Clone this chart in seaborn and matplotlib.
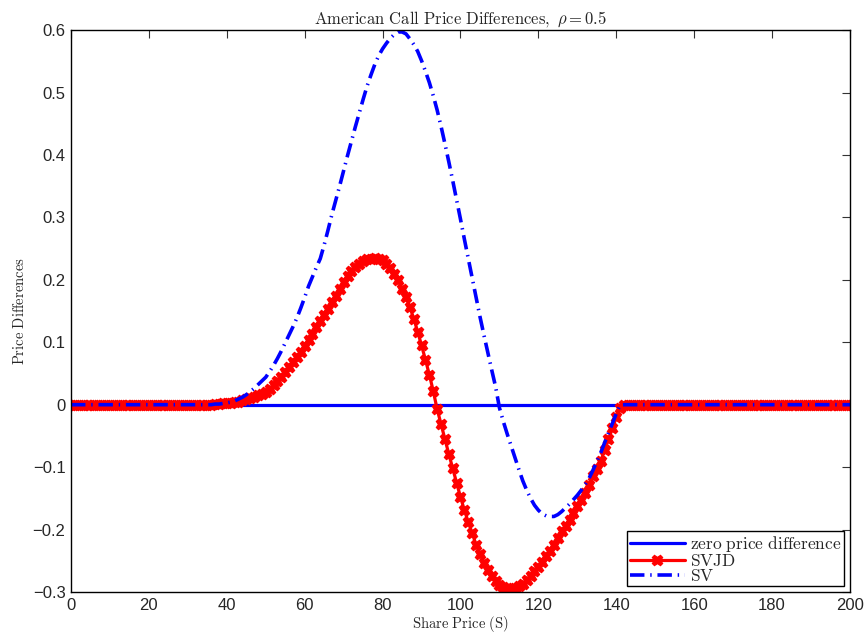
import pandas as pd
import seaborn as sns
import matplotlib.pyplot as plt

# share price grid (one point per unit, as in the original)
share_price = list(range(0, 201))

# SVJD price differences for S = 36..141 (flat zero elsewhere)
svjd_mid = [0.000, 0.001, 0.001, 0.002, 0.002, 0.003, 0.004, 0.005, 0.007, 0.009,
            0.011, 0.013, 0.015, 0.017, 0.020, 0.025, 0.031, 0.038, 0.045, 0.053,
            0.061, 0.069, 0.077, 0.085, 0.094, 0.104, 0.114, 0.124, 0.134, 0.144,
            0.154, 0.164, 0.174, 0.185, 0.196, 0.206, 0.214, 0.221, 0.226, 0.230,
            0.233, 0.234, 0.235, 0.234, 0.231, 0.226, 0.219, 0.210, 0.199, 0.186,
            0.172, 0.156, 0.138, 0.117, 0.095, 0.072, 0.048, 0.022, -0.007, -0.031,
            -0.055, -0.079, -0.102, -0.125, -0.148, -0.169, -0.188, -0.206, -0.224, -0.239,
            -0.253, -0.265, -0.275, -0.283, -0.289, -0.292, -0.294, -0.295, -0.294, -0.291,
            -0.287, -0.281, -0.274, -0.267, -0.260, -0.252, -0.243, -0.234, -0.224, -0.214,
            -0.203, -0.194, -0.184, -0.174, -0.163, -0.153, -0.141, -0.128, -0.115, -0.103,
            -0.090, -0.073, -0.055, -0.038, -0.020, -0.005]

# SV price differences, S = 36..141
sv_mid = [0.000, 0.001, 0.001, 0.002, 0.003, 0.004, 0.006, 0.009, 0.012, 0.016,
          0.021, 0.026, 0.032, 0.038, 0.044, 0.053, 0.063, 0.074, 0.086, 0.099,
          0.112, 0.125, 0.139, 0.155, 0.172, 0.190, 0.205, 0.220, 0.234, 0.256,
          0.280, 0.305, 0.328, 0.351, 0.375, 0.399, 0.422, 0.445, 0.467, 0.489,
          0.510, 0.528, 0.545, 0.559, 0.570, 0.579, 0.587, 0.593, 0.597, 0.597,
          0.594, 0.586, 0.577, 0.566, 0.551, 0.534, 0.516, 0.495, 0.472, 0.446,
          0.418, 0.389, 0.359, 0.328, 0.297, 0.265, 0.234, 0.203, 0.172, 0.141,
          0.112, 0.084, 0.056, 0.029, -0.005, -0.027, -0.047, -0.066, -0.085, -0.104,
          -0.122, -0.137, -0.150, -0.161, -0.169, -0.175, -0.178, -0.179, -0.179, -0.176,
          -0.171, -0.165, -0.159, -0.152, -0.145, -0.137, -0.128, -0.118, -0.105, -0.091,
          -0.077, -0.061, -0.045, -0.030, -0.014, 0.000]

flat_left = [0.0] * 36
flat_right = [0.0] * 59
svjd = flat_left + svjd_mid + flat_right
sv = flat_left + sv_mid + flat_right
zero_line = [0.0] * len(share_price)

df = pd.DataFrame({"S": share_price, "zero": zero_line, "svjd": svjd, "sv": sv})

x_ticks = [0, 20, 40, 60, 80, 100, 120, 140, 160, 180, 200]
y_ticks = [-0.3, -0.2, -0.1, 0, 0.1, 0.2, 0.3, 0.4, 0.5, 0.6]
y_tick_labels = ["\u22120.3", "\u22120.2", "\u22120.1", "0", "0.1", "0.2", "0.3", "0.4", "0.5", "0.6"]

# matlab-ish look
sns.set_style("white")
plt.rcParams["font.family"] = ["Liberation Sans", "DejaVu Sans"]
plt.rcParams["mathtext.fontset"] = "cm"
plt.rcParams["xtick.direction"] = "in"
plt.rcParams["ytick.direction"] = "in"
plt.rcParams["xtick.top"] = True
plt.rcParams["ytick.right"] = True

fig = plt.figure(figsize=(8.66, 6.4), dpi=100)
ax = fig.add_axes([0.082, 0.075, 0.8995, 0.878])

sns.lineplot(x="S", y="zero", data=df, ax=ax, color="#0000ff", linewidth=2.3,
             label=r"$\mathrm{zero\ price\ difference}\ $")
sns.lineplot(x="S", y="svjd", data=df, ax=ax, color="#ff0000", linewidth=2.3,
             marker="X", markersize=7.5, markeredgecolor="#ff0000", markeredgewidth=1.0,
             label=r"$\mathrm{SVJD}$")
sns.lineplot(x="S", y="sv", data=df, ax=ax, color="#0000ff", linewidth=2.6,
             dashes=(4.0, 1.6, 0.4, 1.6), label=r"$\mathrm{SV}$")

ax.set_xlim(0, 200)
ax.set_ylim(-0.3, 0.6)
ax.set_xticks(x_ticks)
ax.set_xticklabels([str(t) for t in x_ticks], fontsize=12)
ax.set_yticks(y_ticks)
ax.set_yticklabels(y_tick_labels, fontsize=12)
ax.tick_params(length=6, width=0.8, color="#333333", pad=4)
for sp in ax.spines.values():
    sp.set_color("black")
    sp.set_linewidth(1.0)

ax.set_xlabel(r"$\mathrm{Share\ Price\ (S)}$", fontsize=10.5, labelpad=1)
ax.set_ylabel(r"$\mathrm{Price\ Differences}$", fontsize=10.5, labelpad=4)
ax.set_title(r"$\mathrm{American\ Call\ Price\ Differences,}\ \rho = 0.5$", fontsize=12, pad=5)

leg = ax.legend(loc="lower right", fontsize=12.5, frameon=True, fancybox=False,
                framealpha=1, edgecolor="black", borderaxespad=0.35,
                handlelength=3.2, borderpad=0.12, labelspacing=-0.05, handletextpad=0.3)
leg.get_frame().set_linewidth(1.0)

plt.savefig("out.png", dpi=100)
